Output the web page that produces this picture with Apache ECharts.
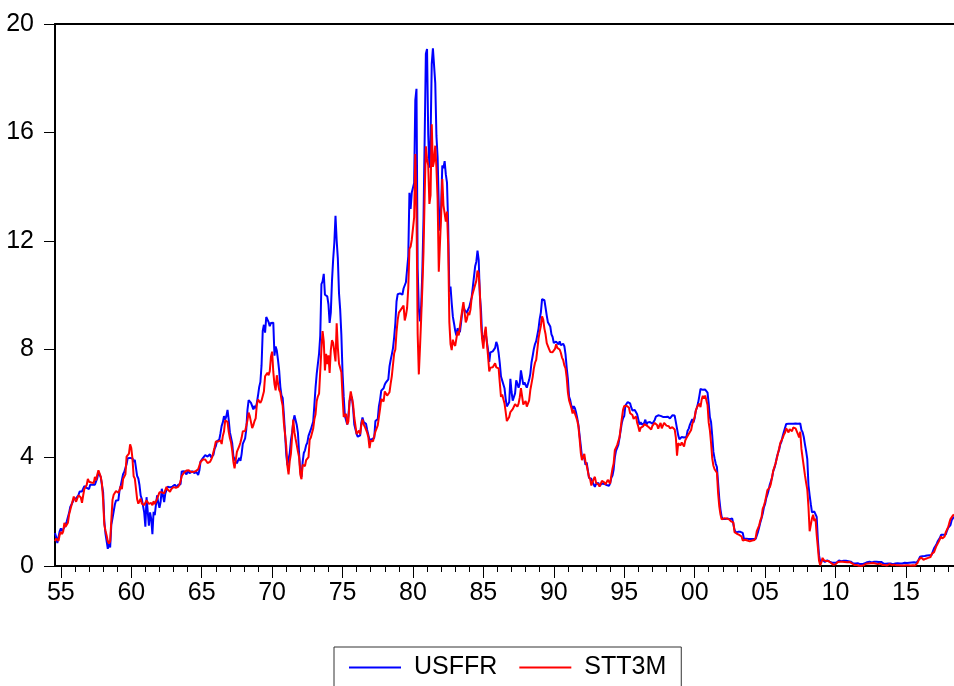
<!DOCTYPE html>
<html><head><meta charset="utf-8">
<script src="https://cdn.jsdelivr.net/npm/echarts@6/dist/echarts.min.js"></script>
<style>html,body{margin:0;padding:0;background:#fff}#c{width:954px;height:686px}</style>
</head><body><div id="c"></div>
<script>
// Monthly series, 1954:08 .. 2018:06
const startYear = 1954, startMonth = 8;
const usffr = [
/*1954*/ 1.22,1.07,0.85,0.83,1.28,
/*1955*/ 1.39,1.29,1.35,1.43,1.43,1.64,1.68,1.96,2.18,2.24,2.35,2.48,
/*1956*/ 2.45,2.50,2.50,2.62,2.75,2.71,2.75,2.73,2.95,2.96,2.88,2.94,
/*1957*/ 2.84,3.00,2.96,3.00,3.00,3.00,2.99,3.24,3.47,3.50,3.28,2.98,
/*1958*/ 2.72,1.67,1.20,1.26,0.63,0.93,0.68,1.53,1.76,1.80,2.27,2.42,
/*1959*/ 2.48,2.43,2.80,2.96,2.90,3.39,3.47,3.50,3.76,3.98,4.00,3.99,
/*1960*/ 3.99,3.97,3.84,3.92,3.85,3.32,3.23,2.98,2.60,2.47,2.44,1.98,
/*1961*/ 1.45,2.54,2.02,1.49,1.98,1.73,1.17,2.00,1.88,2.26,2.61,2.33,
/*1962*/ 2.15,2.37,2.85,2.78,2.36,2.68,2.71,2.93,2.90,2.90,2.94,2.93,
/*1963*/ 2.92,3.00,2.98,2.90,3.00,2.99,3.02,3.49,3.48,3.50,3.48,3.38,
/*1964*/ 3.48,3.48,3.43,3.47,3.50,3.50,3.42,3.50,3.45,3.36,3.52,3.85,
/*1965*/ 3.90,3.98,4.04,4.09,4.10,4.04,4.09,4.12,4.01,4.08,4.10,4.32,
/*1966*/ 4.42,4.60,4.65,4.67,4.90,5.17,5.30,5.53,5.40,5.53,5.76,5.40,
/*1967*/ 4.94,5.00,4.53,4.05,3.94,3.98,3.79,3.90,3.99,3.88,4.13,4.51,
/*1968*/ 4.61,4.71,5.05,5.76,6.12,6.07,6.02,6.03,5.78,5.91,5.82,6.02,
/*1969*/ 6.30,6.61,6.79,7.41,8.67,8.90,8.61,9.19,9.15,9.00,8.85,8.97,
/*1970*/ 8.98,8.98,7.76,8.10,7.95,7.61,7.21,6.61,6.29,6.20,5.60,4.90,
/*1971*/ 4.14,3.72,3.71,4.16,4.63,4.91,5.31,5.56,5.55,5.20,4.91,4.14,
/*1972*/ 3.50,3.29,3.83,4.17,4.27,4.46,4.55,4.80,4.87,5.04,5.06,5.33,
/*1973*/ 5.94,6.58,7.09,7.12,7.84,8.49,10.40,10.50,10.78,10.01,10.03,9.95,
/*1974*/ 9.65,8.97,9.35,10.51,11.31,11.93,12.92,12.01,11.34,10.06,9.45,8.53,
/*1975*/ 7.13,6.24,5.54,5.49,5.22,5.55,6.10,6.14,6.24,5.82,5.22,5.20,
/*1976*/ 4.87,4.77,4.84,4.82,5.29,5.48,5.31,5.29,5.25,5.02,4.95,4.65,
/*1977*/ 4.61,4.68,4.69,4.73,5.35,5.39,5.42,5.90,6.14,6.47,6.51,6.56,
/*1978*/ 6.70,6.78,6.79,6.89,7.36,7.60,7.81,8.04,8.45,8.96,9.76,10.03,
/*1979*/ 10.07,10.06,10.09,10.01,10.24,10.29,10.47,10.94,11.43,13.77,13.18,13.78,
/*1980*/ 13.82,14.13,17.19,17.61,10.98,9.47,9.03,9.61,10.87,12.81,15.85,18.90,
/*1981*/ 19.08,15.93,14.70,15.72,18.52,19.10,19.04,17.82,15.87,15.08,13.31,12.37,
/*1982*/ 13.22,14.78,14.68,14.94,14.45,14.15,12.59,10.12,10.31,9.71,9.20,8.95,
/*1983*/ 8.68,8.51,8.77,8.80,8.63,8.98,9.37,9.56,9.45,9.48,9.34,9.47,
/*1984*/ 9.56,9.59,9.91,10.29,10.32,11.06,11.23,11.64,11.30,9.99,9.43,8.38,
/*1985*/ 8.35,8.50,8.58,8.27,7.97,7.53,7.88,7.90,7.92,7.99,8.05,8.27,
/*1986*/ 8.14,7.86,7.48,6.99,6.85,6.92,6.56,6.17,5.89,5.85,6.04,6.91,
/*1987*/ 6.43,6.10,6.13,6.37,6.85,6.73,6.58,6.73,7.22,7.29,6.69,6.77,
/*1988*/ 6.83,6.58,6.58,6.87,7.09,7.51,7.75,8.01,8.19,8.30,8.35,8.76,
/*1989*/ 9.12,9.36,9.85,9.84,9.81,9.53,9.24,8.99,9.02,8.84,8.55,8.45,
/*1990*/ 8.23,8.24,8.28,8.26,8.18,8.29,8.15,8.13,8.20,8.11,7.81,7.31,
/*1991*/ 6.91,6.25,6.12,5.91,5.78,5.90,5.82,5.66,5.45,5.21,4.81,4.43,
/*1992*/ 4.03,4.06,3.98,3.73,3.82,3.76,3.25,3.30,3.22,3.10,3.09,2.92,
/*1993*/ 3.02,3.03,3.07,2.96,3.00,3.04,3.06,3.03,3.09,2.99,3.02,2.96,
/*1994*/ 3.05,3.25,3.34,3.56,4.01,4.25,4.26,4.47,4.73,4.76,5.29,5.45,
/*1995*/ 5.53,5.92,5.98,6.05,6.01,6.00,5.85,5.74,5.80,5.76,5.80,5.60,
/*1996*/ 5.56,5.22,5.31,5.22,5.24,5.27,5.40,5.22,5.30,5.24,5.31,5.29,
/*1997*/ 5.25,5.19,5.39,5.51,5.50,5.56,5.52,5.54,5.54,5.50,5.52,5.50,
/*1998*/ 5.56,5.51,5.49,5.45,5.49,5.56,5.54,5.55,5.51,5.07,4.83,4.68,
/*1999*/ 4.63,4.76,4.81,4.74,4.74,4.76,4.99,5.07,5.22,5.20,5.42,5.30,
/*2000*/ 5.45,5.73,5.85,6.02,6.27,6.53,6.54,6.50,6.52,6.51,6.51,6.40,
/*2001*/ 5.98,5.49,5.31,4.80,4.21,3.97,3.77,3.65,3.07,2.49,2.09,1.82,
/*2002*/ 1.73,1.74,1.73,1.75,1.75,1.75,1.73,1.74,1.75,1.75,1.34,1.24,
/*2003*/ 1.24,1.26,1.25,1.26,1.26,1.22,1.01,1.03,1.01,1.01,1.00,0.98,
/*2004*/ 1.00,1.01,1.00,1.00,1.00,1.03,1.26,1.43,1.61,1.76,1.93,2.16,
/*2005*/ 2.28,2.50,2.63,2.79,3.00,3.04,3.26,3.50,3.62,3.78,4.00,4.16,
/*2006*/ 4.29,4.49,4.59,4.79,4.94,4.99,5.24,5.25,5.25,5.25,5.25,5.24,
/*2007*/ 5.25,5.26,5.26,5.25,5.25,5.25,5.26,5.02,4.94,4.76,4.49,4.24,
/*2008*/ 3.94,2.98,2.61,2.28,1.98,2.00,2.01,2.00,1.81,0.97,0.39,0.16,
/*2009*/ 0.15,0.22,0.18,0.15,0.18,0.21,0.16,0.16,0.15,0.12,0.12,0.12,
/*2010*/ 0.11,0.13,0.16,0.20,0.20,0.18,0.18,0.19,0.19,0.19,0.19,0.18,
/*2011*/ 0.17,0.16,0.14,0.10,0.09,0.09,0.07,0.10,0.08,0.07,0.08,0.07,
/*2012*/ 0.08,0.10,0.13,0.14,0.16,0.16,0.16,0.13,0.14,0.16,0.16,0.16,
/*2013*/ 0.14,0.15,0.14,0.15,0.11,0.09,0.09,0.08,0.08,0.09,0.08,0.09,
/*2014*/ 0.07,0.07,0.08,0.09,0.09,0.10,0.09,0.09,0.09,0.09,0.09,0.12,
/*2015*/ 0.11,0.11,0.11,0.12,0.12,0.13,0.13,0.14,0.14,0.12,0.12,0.24,
/*2016*/ 0.34,0.38,0.36,0.37,0.37,0.38,0.39,0.40,0.40,0.40,0.41,0.54,
/*2017*/ 0.65,0.66,0.79,0.90,0.91,1.04,1.15,1.16,1.15,1.15,1.16,1.30,
/*2018*/ 1.41,1.42,1.51,1.69,1.70,1.82
];
const stt3m = [
/*1954*/ 0.92,1.01,0.98,0.93,1.15,
/*1955*/ 1.26,1.18,1.28,1.59,1.45,1.41,1.60,1.90,2.07,2.23,2.24,2.56,
/*1956*/ 2.46,2.37,2.31,2.61,2.65,2.53,2.33,2.60,2.84,2.90,2.99,3.21,
/*1957*/ 3.11,3.10,3.08,3.06,3.06,3.29,3.16,3.37,3.53,3.58,3.29,3.04,
/*1958*/ 2.44,1.53,1.30,1.13,0.91,0.83,0.91,1.69,2.44,2.63,2.67,2.77,
/*1959*/ 2.82,2.70,2.80,2.95,2.84,3.21,3.20,3.38,4.04,4.05,4.15,4.49,
/*1960*/ 4.35,3.96,3.31,3.23,3.29,2.46,2.30,2.30,2.48,2.30,2.37,2.25,
/*1961*/ 2.24,2.42,2.39,2.29,2.29,2.33,2.24,2.39,2.28,2.30,2.48,2.60,
/*1962*/ 2.72,2.73,2.72,2.73,2.68,2.73,2.92,2.82,2.78,2.74,2.83,2.87,
/*1963*/ 2.91,2.92,2.89,2.90,2.92,3.00,3.14,3.32,3.38,3.45,3.52,3.52,
/*1964*/ 3.52,3.53,3.54,3.47,3.48,3.48,3.46,3.50,3.53,3.57,3.64,3.84,
/*1965*/ 3.81,3.93,3.93,3.93,3.89,3.80,3.84,3.84,3.92,4.03,4.09,4.38,
/*1966*/ 4.59,4.65,4.59,4.62,4.64,4.50,4.80,4.96,5.37,5.35,5.32,4.96,
/*1967*/ 4.72,4.56,4.26,3.84,3.60,3.54,4.21,4.27,4.42,4.56,4.73,4.97,
/*1968*/ 5.00,4.98,5.17,5.38,5.66,5.52,5.31,5.09,5.19,5.35,5.45,5.96,
/*1969*/ 6.14,6.12,6.02,6.11,6.04,6.44,7.00,7.01,7.13,7.04,7.19,7.72,
/*1970*/ 7.91,7.16,6.71,6.48,7.04,6.74,6.50,6.41,6.12,5.91,5.28,4.87,
/*1971*/ 4.44,3.70,3.38,3.86,4.14,4.75,5.40,4.94,4.69,4.46,4.22,4.01,
/*1972*/ 3.38,3.20,3.73,3.71,3.69,3.91,3.98,4.02,4.66,4.74,4.78,5.07,
/*1973*/ 5.41,5.60,6.09,6.26,6.36,7.19,8.01,8.67,8.29,7.22,7.83,7.45,
/*1974*/ 7.77,7.12,7.96,8.33,8.23,7.90,7.55,8.96,8.06,7.46,7.47,7.15,
/*1975*/ 6.26,5.50,5.49,5.61,5.23,5.34,6.13,6.44,6.42,5.96,5.48,5.44,
/*1976*/ 4.87,4.88,5.00,4.86,5.20,5.41,5.23,5.14,5.08,4.92,4.75,4.35,
/*1977*/ 4.62,4.67,4.60,4.54,4.96,5.02,5.19,5.49,5.81,6.16,6.10,6.07,
/*1978*/ 6.44,6.45,6.29,6.29,6.41,6.73,7.01,7.08,7.85,7.99,8.64,9.08,
/*1979*/ 9.35,9.32,9.48,9.46,9.61,9.06,9.24,9.52,10.26,11.70,11.79,12.04,
/*1980*/ 12.00,12.86,15.20,13.20,8.58,7.07,8.06,9.13,10.27,11.62,13.73,15.49,
/*1981*/ 15.02,14.79,13.36,13.69,16.30,14.73,14.95,15.51,14.70,13.54,10.86,10.85,
/*1982*/ 12.92,14.28,13.31,13.34,12.71,13.08,11.86,9.00,8.19,7.97,8.35,8.20,
/*1983*/ 8.12,8.39,8.66,8.51,8.50,9.14,9.45,9.74,9.36,8.99,9.11,9.36,
/*1984*/ 9.26,9.46,9.89,10.07,10.22,10.26,10.53,10.90,10.80,10.12,8.92,8.34,
/*1985*/ 8.02,8.56,8.83,8.22,7.73,7.18,7.32,7.37,7.33,7.40,7.48,7.33,
/*1986*/ 7.30,7.29,6.76,6.24,6.33,6.40,6.00,5.69,5.35,5.32,5.50,5.68,
/*1987*/ 5.63,5.79,5.75,5.97,5.95,5.88,5.99,6.22,6.56,6.63,5.96,5.98,
/*1988*/ 6.09,5.88,5.88,6.11,6.49,6.73,6.97,7.29,7.50,7.61,7.99,8.40,
/*1989*/ 8.65,8.86,9.21,9.09,8.76,8.55,8.22,8.21,8.00,7.90,7.91,7.89,
/*1990*/ 7.91,8.01,8.18,8.05,8.01,7.99,7.87,7.69,7.60,7.40,7.29,6.95,
/*1991*/ 6.41,6.12,6.09,5.83,5.63,5.75,5.75,5.50,5.37,5.14,4.69,4.18,
/*1992*/ 3.91,3.95,4.14,3.84,3.72,3.75,3.28,3.20,2.97,2.93,3.21,3.29,
/*1993*/ 3.07,3.00,3.01,2.93,3.03,3.14,3.11,3.09,3.01,3.09,3.18,3.13,
/*1994*/ 3.04,3.33,3.59,3.78,4.27,4.25,4.46,4.61,4.75,5.10,5.45,5.76,
/*1995*/ 5.90,5.94,5.91,5.84,5.85,5.64,5.59,5.57,5.43,5.44,5.52,5.29,
/*1996*/ 5.15,4.96,5.10,5.09,5.15,5.23,5.30,5.19,5.24,5.12,5.17,5.04,
/*1997*/ 5.17,5.14,5.28,5.30,5.20,5.07,5.19,5.28,5.08,5.11,5.28,5.30,
/*1998*/ 5.18,5.23,5.16,5.08,5.14,5.12,5.09,5.04,4.74,4.07,4.53,4.50,
/*1999*/ 4.45,4.56,4.57,4.41,4.63,4.72,4.69,4.87,4.82,5.02,5.23,5.36,
/*2000*/ 5.50,5.73,5.86,5.82,5.99,5.86,6.14,6.28,6.18,6.29,6.30,5.94,
/*2001*/ 5.29,5.01,4.54,3.97,3.70,3.57,3.59,3.44,2.69,2.20,1.91,1.72,
/*2002*/ 1.68,1.76,1.83,1.75,1.76,1.73,1.71,1.65,1.66,1.61,1.25,1.21,
/*2003*/ 1.19,1.19,1.15,1.15,1.09,0.94,0.92,0.97,0.96,0.94,0.95,0.91,
/*2004*/ 0.90,0.94,0.95,0.96,1.04,1.29,1.36,1.50,1.68,1.79,2.11,2.22,
/*2005*/ 2.37,2.58,2.80,2.84,2.90,3.04,3.29,3.52,3.49,3.79,3.97,3.97,
/*2006*/ 4.34,4.54,4.63,4.72,4.84,4.92,5.08,5.09,4.93,5.05,5.07,4.97,
/*2007*/ 5.11,5.16,5.08,5.01,4.87,4.74,4.96,4.32,3.99,4.00,3.35,3.07,
/*2008*/ 2.82,2.17,1.28,1.31,1.76,1.89,1.66,1.75,1.15,0.69,0.19,0.03,
/*2009*/ 0.13,0.30,0.22,0.16,0.18,0.18,0.18,0.17,0.12,0.07,0.05,0.05,
/*2010*/ 0.06,0.11,0.15,0.16,0.16,0.12,0.16,0.16,0.15,0.13,0.14,0.14,
/*2011*/ 0.15,0.13,0.10,0.06,0.04,0.04,0.04,0.02,0.01,0.02,0.01,0.01,
/*2012*/ 0.03,0.09,0.08,0.08,0.09,0.09,0.10,0.10,0.11,0.10,0.09,0.07,
/*2013*/ 0.07,0.10,0.09,0.06,0.04,0.05,0.04,0.04,0.02,0.05,0.07,0.07,
/*2014*/ 0.04,0.05,0.05,0.03,0.03,0.04,0.03,0.03,0.02,0.02,0.02,0.03,
/*2015*/ 0.03,0.02,0.03,0.02,0.02,0.02,0.03,0.07,0.02,0.02,0.12,0.23,
/*2016*/ 0.26,0.31,0.29,0.23,0.27,0.27,0.30,0.30,0.29,0.33,0.45,0.51,
/*2017*/ 0.51,0.52,0.74,0.80,0.90,0.99,1.09,1.01,1.03,1.09,1.25,1.34,
/*2018*/ 1.43,1.59,1.73,1.79,1.86,1.90
];
const yTicks = [0, 4, 8, 12, 16, 20];
const seriesNames = ['USFFR', 'STT3M'];

// month categories
const months = [];
for (let i = 0; i < usffr.length; i++) {
  const m0 = startMonth - 1 + i;
  const y = startYear + Math.floor(m0 / 12);
  const m = (m0 % 12) + 1;
  months.push(y + '-' + (m < 10 ? '0' + m : m));
}
const isJan = v => v.slice(5) === '01';
const isMajor = v => isJan(v) && (+v.slice(0, 4)) % 5 === 0;

const FONT = 'Liberation Sans, Arial, sans-serif';
const chart = echarts.init(document.getElementById('c'), null, {renderer: 'canvas'});
chart.setOption({
  backgroundColor: '#fff',
  animation: false,
  grid: {left: 55, top: 24, width: 901, bottom: 120, show: false, containLabel: false},
  legend: {
    data: seriesNames,
    left: 334, top: 647,
    orient: 'horizontal',
    icon: 'rect', itemWidth: 52, itemHeight: 2, itemGap: 22,
    padding: [8, 15, 40, 15],
    borderColor: '#333', borderWidth: 1,
    textStyle: {fontFamily: FONT, fontSize: 25, color: '#000', padding: [0, 0, 0, 8]}
  },
  xAxis: [
    {
      type: 'category', data: months, boundaryGap: false, position: 'bottom',
      axisLine: {show: true, lineStyle: {color: '#000', width: 2}},
      axisTick: {show: true, interval: (i, v) => isJan(v), length: 6, lineStyle: {color: '#000', width: 1}},
      axisLabel: {show: false},
      splitLine: {show: false}
    },
    {
      type: 'category', data: months, boundaryGap: false, position: 'bottom',
      axisLine: {show: false},
      axisTick: {show: true, interval: (i, v) => isMajor(v), length: 12, lineStyle: {color: '#000', width: 1}},
      axisLabel: {show: true, interval: (i, v) => isMajor(v), formatter: v => v.slice(2, 4),
        fontFamily: FONT, fontSize: 25, color: '#000', margin: 15},
      splitLine: {show: false}
    },
    {
      type: 'category', data: months, boundaryGap: false, position: 'top',
      axisLine: {show: true, lineStyle: {color: '#000', width: 2}},
      axisTick: {show: false}, axisLabel: {show: false}, splitLine: {show: false}
    }
  ],
  yAxis: {
    type: 'value', min: 0, max: 20, interval: 4,
    axisLine: {show: true, lineStyle: {color: '#000', width: 2}},
    axisTick: {show: true, length: 11, lineStyle: {color: '#000', width: 1}},
    axisLabel: {fontFamily: FONT, fontSize: 25, color: '#000', margin: 21,
      verticalAlign: 'middle', padding: [0, 0, 12, 0],
      formatter: v => yTicks.indexOf(v) >= 0 ? String(v) : ''},
    splitLine: {show: false}
  },
  series: [
    {name: 'USFFR', type: 'line', data: usffr, xAxisIndex: 0, showSymbol: false, symbol: 'none',
     lineStyle: {color: '#0000FF', width: 2}, itemStyle: {color: '#0000FF'}, z: 2},
    {name: 'STT3M', type: 'line', data: stt3m, xAxisIndex: 0, showSymbol: false, symbol: 'none',
     lineStyle: {color: '#FF0000', width: 2}, itemStyle: {color: '#FF0000'}, z: 3}
  ]
});
</script>
</body></html>
